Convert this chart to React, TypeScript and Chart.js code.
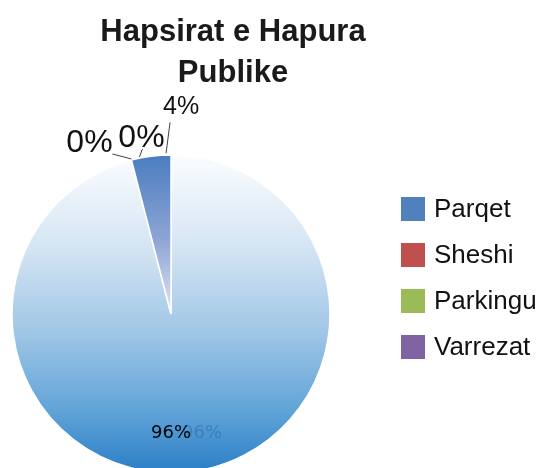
import React, { useEffect, useRef } from "react";
import { Chart, registerables } from "chart.js";

Chart.register(...registerables);

const titleLines = ["Hapsirat e Hapura", "Publike"];
const categories = ["Parqet", "Sheshi", "Parkingu", "Varrezat"];
const values = [96, 0, 0, 4];
const legendColors = ["#4f81bd", "#c0504d", "#9bbb59", "#8064a2"];

const CX = 171;
const CY = 314;
const R = 159;

function sliceFill(ctx: any) {
  const chart = ctx.chart;
  const c = chart.ctx;
  const area = chart.chartArea;
  const i = ctx.dataIndex;
  if (!area) return legendColors[i] || "#4f81bd";
  const cy = (area.top + area.bottom) / 2;
  const top = cy - R;
  if (i === 0) {
    const g = c.createLinearGradient(0, top, 0, cy + R);
    g.addColorStop(0, "#fbfdff");
    g.addColorStop(0.3, "#d3e4f3");
    g.addColorStop(0.55, "#a2c7e6");
    g.addColorStop(0.8, "#62a4d8");
    g.addColorStop(1, "#2a7ec6");
    return g;
  }
  if (i === 3) {
    const g = c.createLinearGradient(0, top, 0, cy + 8);
    g.addColorStop(0, "#4a7dbf");
    g.addColorStop(0.5, "#8ca4d4");
    g.addColorStop(1, "#ebebf6");
    return g;
  }
  return "#c8a882";
}

const overlayPlugin = {
  id: "overlay",
  afterDatasetsDraw(chart: any) {
    const ctx = chart.ctx;
    const meta = chart.getDatasetMeta(0);
    const total = values.reduce((a, b) => a + b, 0);
    ctx.save();
    meta.data.forEach((arc: any, i: number) => {
      const p = arc.getProps(["x", "y", "startAngle", "endAngle", "outerRadius"], true);
      const mid = (p.startAngle + p.endAngle) / 2;
      const ax = p.x + Math.cos(mid) * p.outerRadius;
      const ay = p.y + Math.sin(mid) * p.outerRadius;
      const txt = Math.round((values[i] / total) * 100) + "%";
      ctx.textAlign = "center";
      ctx.textBaseline = "middle";
      if (i === 0) {
        ctx.font = "18px 'DejaVu Sans'";
        ctx.fillStyle = "rgba(40,100,165,0.45)";
        ctx.fillText(txt, p.x + 31, p.y + 119);
        ctx.fillStyle = "#000000";
        ctx.fillText(txt, p.x, p.y + 119);
        return;
      }
      ctx.strokeStyle = "#404040";
      ctx.lineWidth = 1;
      let tx = 0, ty = 0, lx1 = 0, ly1 = 0, lx2 = 0, ly2 = 0, size = 32;
      if (i === 1) {
        tx = ax - 42; ty = ay - 17; lx1 = ax - 19; ly1 = ay - 6; lx2 = ax; ly2 = ay - 1; size = 32;
      } else if (i === 2) {
        tx = ax + 10; ty = ay - 22; lx1 = ax + 11; ly1 = ay - 11; lx2 = ax + 8; ly2 = ay - 3; size = 32;
      } else {
        tx = ax + 30; ty = ay - 49; lx1 = ax + 19; ly1 = ay - 34; lx2 = ax + 15; ly2 = ay - 3; size = 25;
      }
      ctx.beginPath();
      ctx.moveTo(lx1, ly1);
      ctx.lineTo(lx2, ly2);
      ctx.stroke();
      ctx.font = size + "px 'Liberation Sans'";
      ctx.fillStyle = "#111111";
      ctx.fillText(txt, tx, ty);
    });
    ctx.font = "bold 31px 'Liberation Sans'";
    ctx.fillStyle = "#1a1a1a";
    ctx.textAlign = "center";
    ctx.textBaseline = "alphabetic";
    titleLines.forEach((t, k) => ctx.fillText(t, 233, 41 + k * 41));
    ctx.textAlign = "left";
    ctx.textBaseline = "middle";
    ctx.font = "26px 'Liberation Sans'";
    categories.forEach((name, k) => {
      const y = 209 + k * 46;
      ctx.fillStyle = legendColors[k];
      ctx.fillRect(401, y - 12, 24, 24);
      ctx.fillStyle = "#111111";
      ctx.fillText(name, 434, y + 1);
    });
    ctx.restore();
  },
};

export default function App() {
  const ref = useRef<HTMLCanvasElement>(null);
  useEffect(() => {
    document.body.style.margin = "0";
    const canvas = ref.current!;
    const chart = new Chart(canvas, {
      type: "pie",
      data: {
        labels: categories,
        datasets: [
          {
            data: values,
            backgroundColor: sliceFill as any,
            borderColor: "#ffffff",
            borderWidth: 1.5,
            radius: R,
            clip: false as any,
          } as any,
        ],
      },
      options: {
        responsive: false,
        animation: false,
        layout: {
          padding: { left: CX - 154, right: 541 - (CX + 154), top: CY - 154, bottom: 468 - (CY + 154) },
        },
        plugins: {
          legend: { display: false },
          title: { display: false },
          tooltip: { enabled: false },
        },
      },
      plugins: [overlayPlugin],
    });
    return () => chart.destroy();
  }, []);
  return (
    <div style={{ width: 541, height: 468, background: "#ffffff" }}>
      <canvas ref={ref} width={541} height={468} />
    </div>
  );
}
